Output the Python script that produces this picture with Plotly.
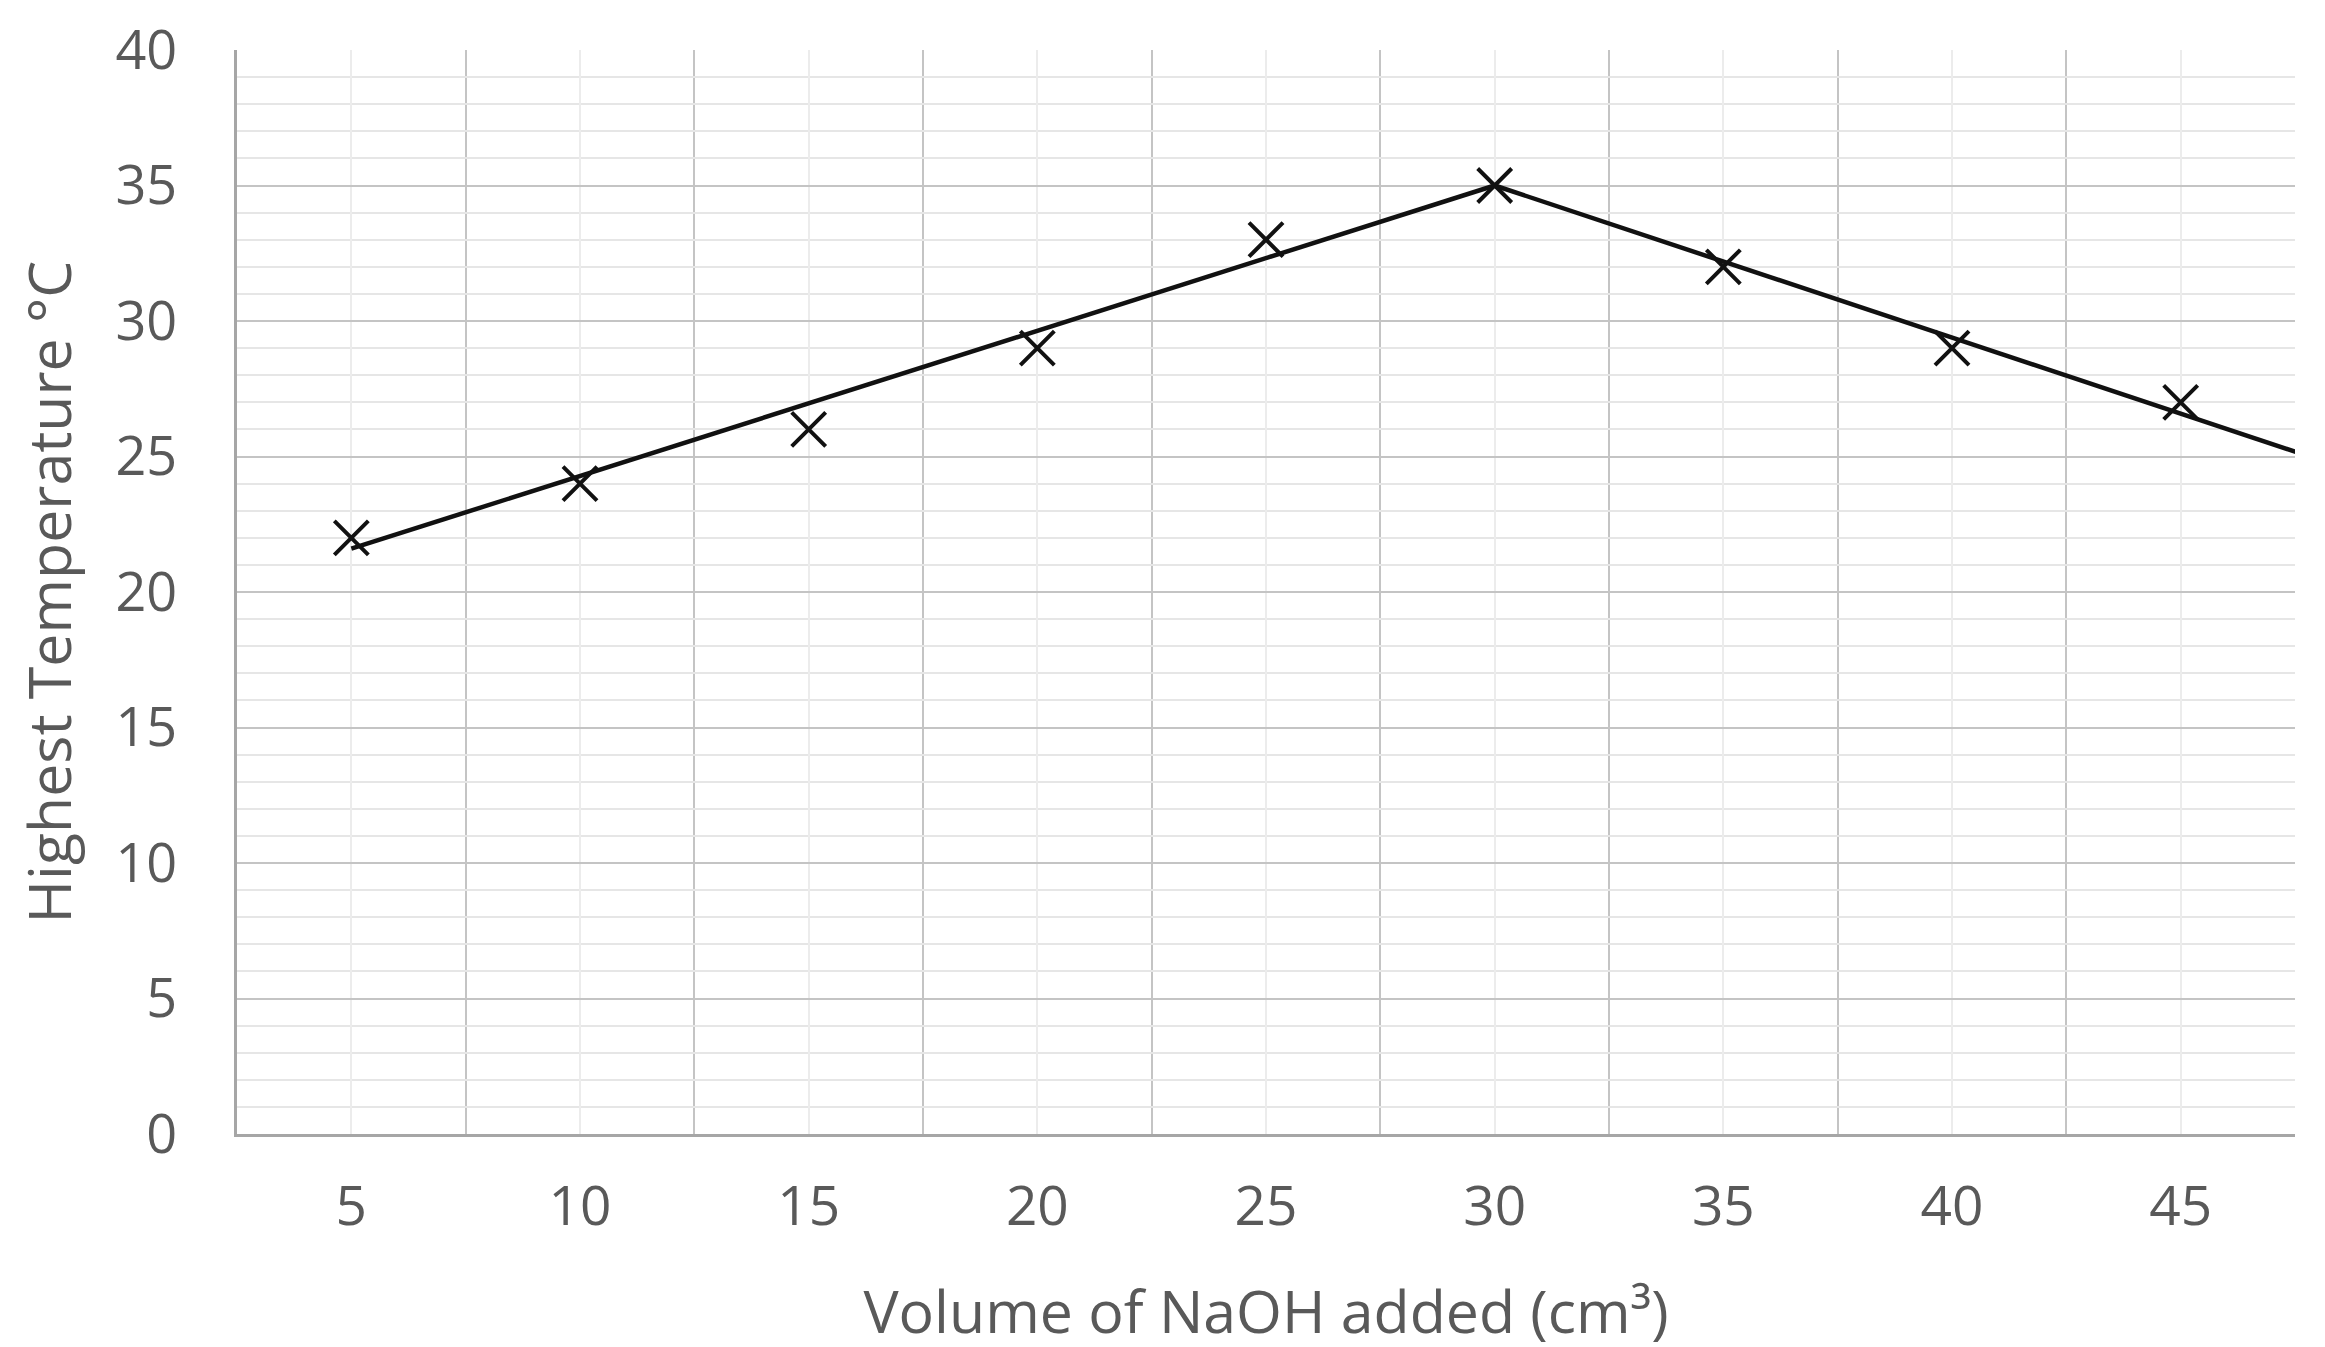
import plotly.graph_objects as go

volume = [5, 10, 15, 20, 25, 30, 35, 40, 45]
temperature = [22, 24, 26, 29, 33, 35, 32, 29, 27]

# hand-drawn lines of best fit (data units)
fit_up_x = [5, 30]
fit_up_y = [21.6, 35]
fit_down_x = [30, 48]
fit_down_y = [35, 24.9]

x_ticks = [5, 10, 15, 20, 25, 30, 35, 40, 45]
x_bounds = [2.5, 7.5, 12.5, 17.5, 22.5, 27.5, 32.5, 37.5, 42.5, 47.5]

font_family = "Open Sans, Noto Sans, sans-serif"
text_color = "#595959"

fig = go.Figure()
for fx, fy in [(fit_up_x, fit_up_y), (fit_down_x, fit_down_y)]:
    fig.add_trace(go.Scatter(x=fx, y=fy, mode="lines",
                             line=dict(color="#111111", width=4.5),
                             showlegend=False, hoverinfo="skip"))
fig.add_trace(go.Scatter(x=volume, y=temperature, mode="markers",
                         marker=dict(symbol="x-thin", size=34,
                                     line=dict(color="#111111", width=4)),
                         showlegend=False, cliponaxis=False))

fig.update_layout(
    width=2325, height=1347,
    paper_bgcolor="white", plot_bgcolor="white",
    margin=dict(l=229, r=38, t=42, b=221),
    font=dict(family=font_family, color=text_color, size=54),
)
fig.update_xaxes(
    range=[2.5, 47.5], tickmode="array", tickvals=x_ticks,
    ticktext=[str(v) for v in x_ticks], automargin=False,
    showgrid=True, gridcolor="#ececec", gridwidth=1.5,
    minor=dict(tickmode="array", tickvals=x_bounds, showgrid=True,
               gridcolor="#c4c4c4", gridwidth=2, ticks=""),
    showline=True, linecolor="#a6a6a6", linewidth=3,
    ticks="", ticklabelstandoff=22, zeroline=False,
    tickfont=dict(size=55, color=text_color),
    title=dict(text="Volume of NaOH added (cm³)", font=dict(size=59, color=text_color), standoff=52),
)
fig.update_yaxes(
    range=[0, 40], dtick=5, tick0=0, automargin=False,
    ticklabeloverflow="allow",
    showgrid=True, gridcolor="#c4c4c4", gridwidth=2,
    minor=dict(dtick=1, showgrid=True, gridcolor="#e6e6e6", gridwidth=1.5, ticks=""),
    showline=True, linecolor="#a6a6a6", linewidth=3,
    ticks="", ticklabelstandoff=46, zeroline=False,
    tickfont=dict(size=54, color=text_color),
    title=dict(text="Highest Temperature °C", font=dict(size=59, color=text_color), standoff=25),
)

fig.write_html("out.html")
